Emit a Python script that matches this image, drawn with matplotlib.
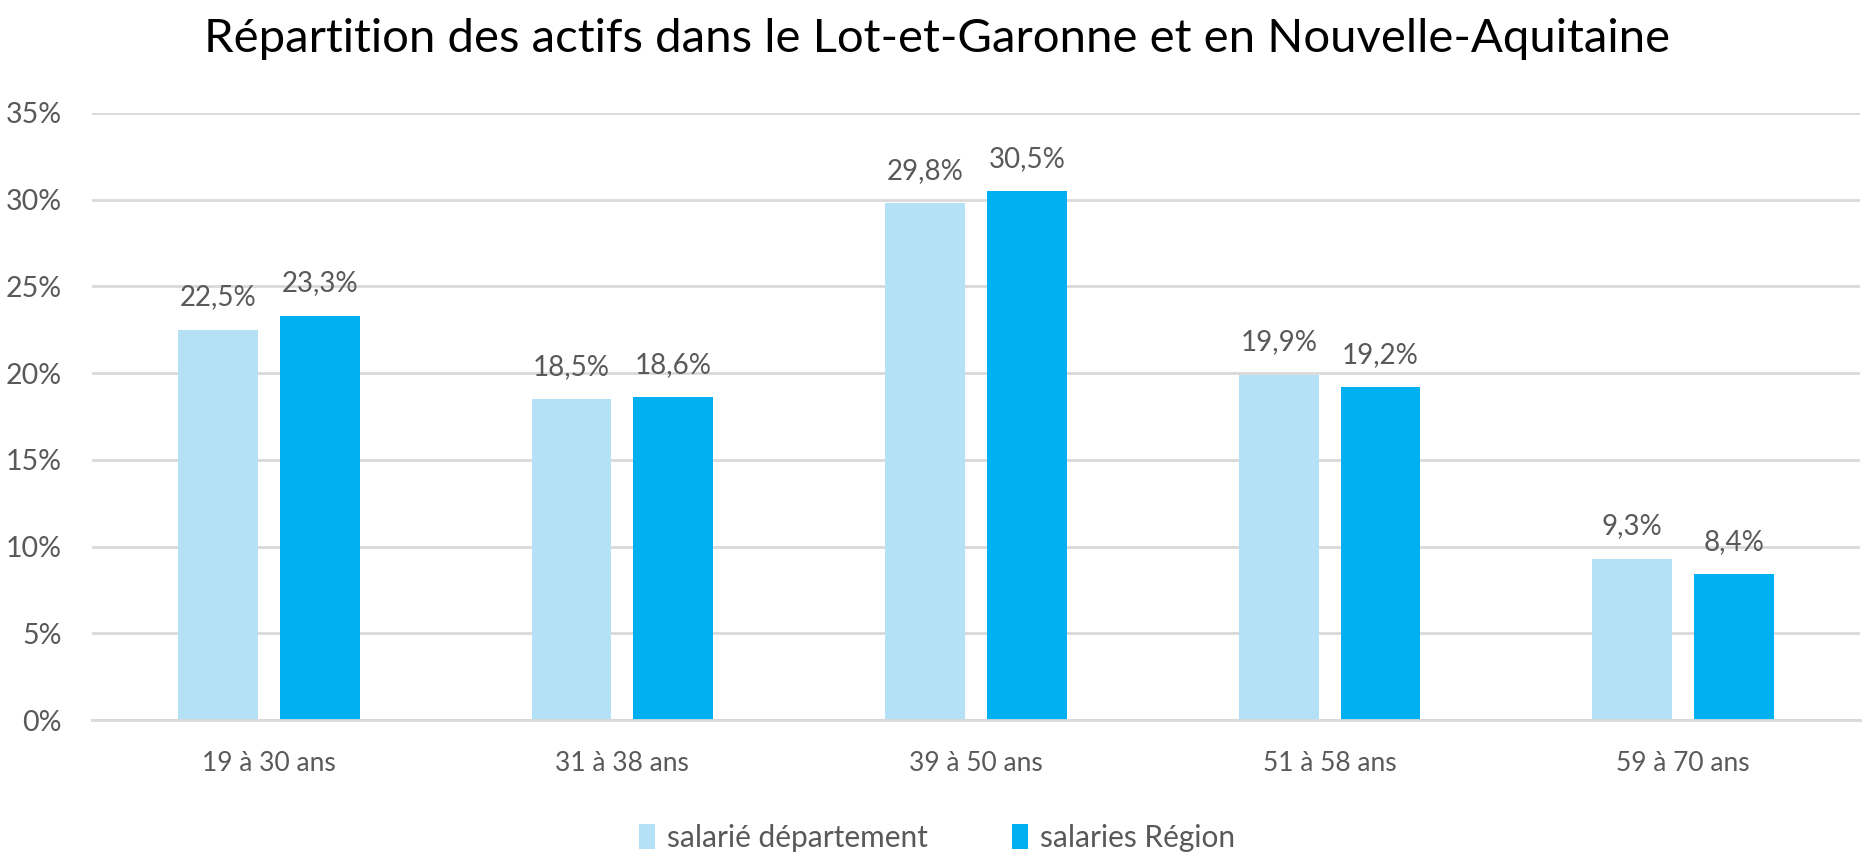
import matplotlib
matplotlib.use("Agg")
import matplotlib.pyplot as plt
import numpy as np

categories = ["19 à 30 ans", "31 à 38 ans", "39 à 50 ans", "51 à 58 ans", "59 à 70 ans"]
departement = [22.5, 18.5, 29.8, 19.9, 9.3]
region = [23.3, 18.6, 30.5, 19.2, 8.4]
series_names = ["salarié département", "salaries Région"]

LIGHT = "#B4E1F5"
DARK = "#00B0F0"
TEXT = "#595959"
GRID = "#D9D9D9"

plt.rcParams["font.family"] = ["Lato", "DejaVu Sans"]

fig = plt.figure(figsize=(18.63, 8.65), dpi=100)
ax = fig.add_axes([0.0494, 0.1676, 0.949, 0.7018])

x = np.arange(len(categories))
w = 0.226
off = 0.144
b1 = ax.bar(x - off, np.array(departement) / 100, w, color=LIGHT, label=series_names[0], zorder=3)
b2 = ax.bar(x + off, np.array(region) / 100, w, color=DARK, label=series_names[1], zorder=3)

# data labels, french decimal comma
for bars, vals in ((b1, departement), (b2, region)):
    for rect, v in zip(bars, vals):
        ax.annotate(f"{v:.1f}%".replace(".", ","),
                    (rect.get_x() + rect.get_width() / 2, rect.get_height()),
                    xytext=(0, 14), textcoords="offset points",
                    ha="center", va="bottom", fontsize=20, color=TEXT)

ax.set_xlim(-0.5, len(categories) - 0.5)
ax.set_ylim(0, 0.35)
ticks = np.arange(0, 0.351, 0.05)
ax.set_yticks(ticks)
ax.set_yticklabels([f"{int(round(t * 100))}%" for t in ticks])
ax.set_xticks(x)
ax.set_xticklabels(categories)
ax.tick_params(axis="both", length=0, colors=TEXT)
ax.tick_params(axis="x", pad=22, labelsize=19)
ax.tick_params(axis="y", pad=22, labelsize=20.5)
ax.yaxis.grid(True, color=GRID, linewidth=2, zorder=0)
for s in ("top", "right", "left"):
    ax.spines[s].set_visible(False)
ax.spines["bottom"].set_color(GRID)
ax.spines["bottom"].set_linewidth(2)
ax.spines["bottom"].set_zorder(4)

fig.text(0.503, 0.955, "Répartition des actifs dans le Lot-et-Garonne et en Nouvelle-Aquitaine",
         ha="center", va="center", fontsize=34, color="black")

fig.legend(handles=[b1, b2], labels=series_names, loc="center", bbox_to_anchor=(0.503, 0.031),
           ncol=2, frameon=False, fontsize=21.5, labelcolor=TEXT, handlelength=0.55,
           handleheight=0.9, handletextpad=0.4, columnspacing=2.8)

fig.savefig("out.png", dpi=100)
